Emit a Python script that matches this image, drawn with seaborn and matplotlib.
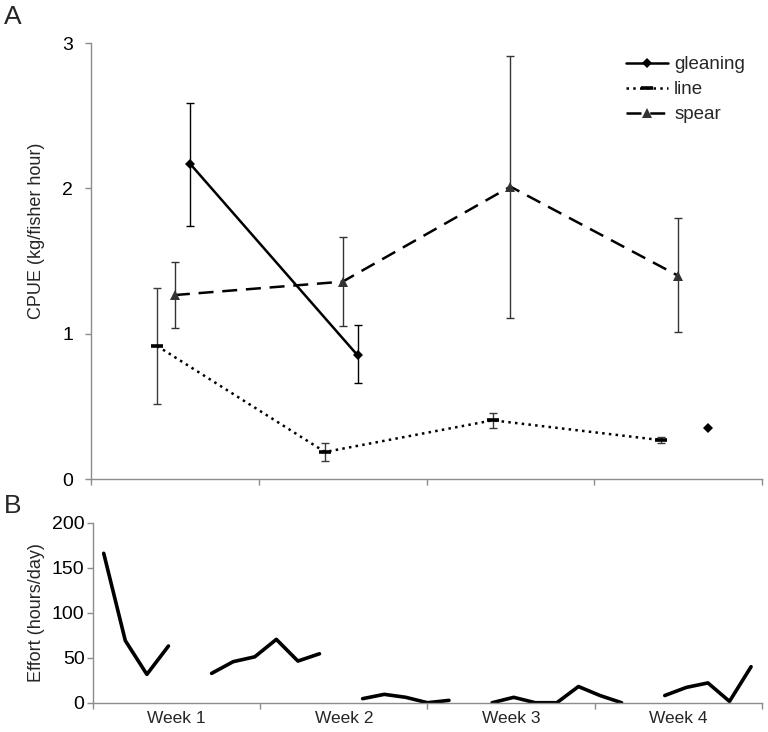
"""
CPUE by fishing method and daily fishing effort over four weeks.
"""

import numpy as np
import pandas as pd
import seaborn as sns
from matplotlib import pyplot as plt
from matplotlib.lines import Line2D

nan = np.nan

weeks = ["Week 1", "Week 2", "Week 3", "Week 4"]

# panel A: CPUE (kg/fisher hour), mean with lower / upper error bar ends
gleaning_cpue = [2.17, 0.85, nan, 0.35]
gleaning_lo = [1.74, 0.66, nan, nan]
gleaning_hi = [2.59, 1.06, nan, nan]

line_cpue = [0.915, 0.186, 0.404, 0.268]
line_lo = [0.516, 0.122, 0.349, 0.248]
line_hi = [1.317, 0.248, 0.454, 0.291]

spear_cpue = [1.266, 1.358, 2.012, 1.399]
spear_lo = [1.039, 1.053, 1.110, 1.014]
spear_hi = [1.493, 1.668, 2.911, 1.794]

# panel B: daily effort (hours/day), 31 days, NaN = no data
effort = [166, 69, 31.5, 63, nan, 32.6, 45.6, 51, 70.4, 46.3, 54.4, nan,
          4.5, 9.3, 6, 0, 2.6, nan, 0, 6, 0, 0, 18, 8, 0, nan,
          8, 17, 22, 1.5, 40]

# horizontal offsets of each method within a week (layout only)
offsets = {
    "gleaning": [0.09, 0.09, 0.09, 0.18],
    "line": [-0.105, -0.105, -0.105, -0.105],
    "spear": [0.0, 0.0, 0.0, 0.0],
}
styles = {
    "gleaning": dict(ls="-", marker="D", ms=5, mew=0, mcolor="black", ecolor="black"),
    "line": dict(ls=(0, (1, 1.7)), marker="_", ms=9, mew=2.6, mcolor="black", ecolor="#3a3a3a"),
    "spear": dict(ls=(0, (6, 3.5)), marker="^", ms=6.5, mew=0, mcolor="#333333", ecolor="#333333"),
}

sns.set_style("white")
plt.rcParams["font.family"] = ["Liberation Sans", "DejaVu Sans"]

fig = plt.figure(figsize=(7.68, 7.32), dpi=100)
ax = fig.add_axes([0.1185, 0.3456, 0.8737, 0.5956])
ax2 = fig.add_axes([0.121, 0.04, 0.871, 0.2459])

series = {
    "gleaning": (gleaning_cpue, gleaning_lo, gleaning_hi),
    "line": (line_cpue, line_lo, line_hi),
    "spear": (spear_cpue, spear_lo, spear_hi),
}

handles = []
for name, (cpue, lo, hi) in series.items():
    st = styles[name]
    df = pd.DataFrame({
        "x": np.arange(1, 5) + np.array(offsets[name]),
        "cpue": cpue, "lo": lo, "hi": hi,
    })
    # split into connected runs so gaps are not bridged
    df["seg"] = df["cpue"].isna().cumsum()
    df = df.dropna(subset=["cpue"])
    ok = df.dropna(subset=["lo", "hi"])
    ax.errorbar(ok["x"], ok["cpue"], yerr=[ok["cpue"] - ok["lo"], ok["hi"] - ok["cpue"]],
                fmt="none", ecolor=st["ecolor"], elinewidth=1.0, capsize=3, capthick=1.0, zorder=2)
    for _, seg in df.groupby("seg"):
        if len(seg) > 1:
            sns.lineplot(data=seg, x="x", y="cpue", ax=ax, color="black", lw=1.8,
                         linestyle=st["ls"], estimator=None, sort=False, zorder=3)
    ax.plot(df["x"], df["cpue"], ls="none", marker=st["marker"], ms=st["ms"],
            mew=st["mew"], color=st["mcolor"], mec=st["mcolor"], zorder=4)
    handles.append(Line2D([], [], color="black", lw=1.8, ls=st["ls"], marker=st["marker"],
                          ms=st["ms"], mew=st["mew"], mfc=st["mcolor"], mec=st["mcolor"], label=name))

ax.legend(handles=handles, loc="upper left", bbox_to_anchor=(0.797, 0.97), frameon=False,
          fontsize=13.5, handlelength=2.25, handletextpad=0.33, labelspacing=0.42,
          borderpad=0, borderaxespad=0)

ax.set_xlim(0.5, 4.5)
ax.set_ylim(0, 3)
ax.set_yticks([0, 1, 2, 3])
ax.set_xticks([0.5, 1.5, 2.5, 3.5, 4.5])
ax.set_xticklabels([])
ax.set_xlabel("")
ax.set_ylabel("CPUE (kg/fisher hour)", fontsize=13)
ax.yaxis.set_label_coords(-0.068, 0.569)

# panel B
day_pos = 0.5 + (np.arange(len(effort)) + 0.5) * 4 / len(effort)
eff = pd.DataFrame({"x": day_pos, "effort": effort})
eff["seg"] = eff["effort"].isna().cumsum()
eff = eff.dropna()
sns.lineplot(data=eff, x="x", y="effort", units="seg", estimator=None, ax=ax2,
             color="black", lw=2.6, sort=False)
ax2.set_xlim(0.5, 4.5)
ax2.set_ylim(0, 200)
ax2.set_yticks([0, 50, 100, 150, 200])
ax2.set_xticks([0.5, 1.5, 2.5, 3.5, 4.5])
ax2.set_xticklabels([])
ax2.set_xticks([1, 2, 3, 4], minor=True)
ax2.set_xticklabels(weeks, minor=True, fontsize=12.5)
ax2.tick_params(axis="x", which="minor", length=0, pad=6, bottom=False)
ax2.set_xlabel("")
ax2.set_ylabel("Effort (hours/day)", fontsize=13, labelpad=5)

for a in (ax, ax2):
    sns.despine(ax=a)
    for s in ("left", "bottom"):
        a.spines[s].set_color("#8c8c8c")
        a.spines[s].set_linewidth(1.0)
    a.tick_params(axis="both", which="major", direction="out", length=4, width=1,
                  color="#8c8c8c", labelcolor="black", bottom=True, left=True)
ax.tick_params(axis="y", labelsize=14, pad=9)
ax2.tick_params(axis="y", labelsize=14, pad=2)

fig.text(0.005, 0.993, "A", fontsize=19, va="top", ha="left")
fig.text(0.005, 0.325, "B", fontsize=19, va="top", ha="left")

fig.savefig("out.png", dpi=100)
